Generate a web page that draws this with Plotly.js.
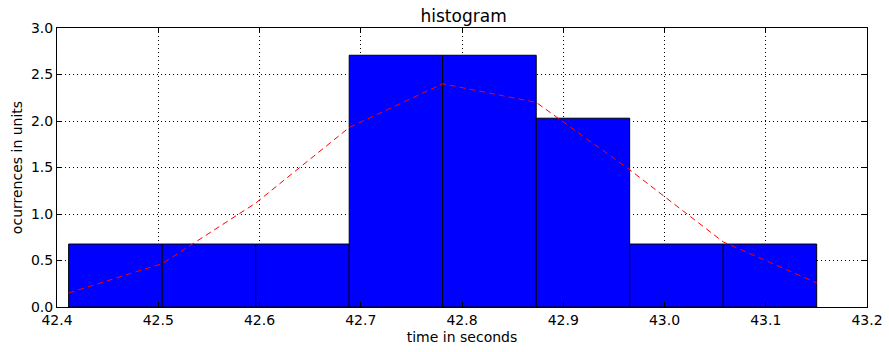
<!DOCTYPE html>
<html>
<head>
<meta charset="utf-8">
<script src="https://cdn.plot.ly/plotly-3.0.1.min.js"></script>
<style>html,body{margin:0;padding:0;background:#fff;}#chart{width:889px;height:352px;}</style>
</head>
<body>
<div id="chart"></div>
<script>
// histogram bin edges (seconds) and normalized densities
const binEdges = [42.4115, 42.5039, 42.5962, 42.6886, 42.7809, 42.8733, 42.9656, 43.0580, 43.1503];
const densities = [0.677, 0.677, 0.677, 2.707, 2.707, 2.030, 0.677, 0.677];
// fitted normal curve, evaluated at bin edges
const curveValues = [0.151, 0.467, 1.117, 1.93, 2.40, 2.20, 1.476, 0.70, 0.259];
const xTicks = [42.4, 42.5, 42.6, 42.7, 42.8, 42.9, 43.0, 43.1, 43.2];
const yTicks = [0.0, 0.5, 1.0, 1.5, 2.0, 2.5, 3.0];

const centers = [], widths = [];
for (let i = 0; i < densities.length; i++) {
  centers.push((binEdges[i] + binEdges[i + 1]) / 2);
  widths.push(binEdges[i + 1] - binEdges[i]);
}

const font = {family: 'DejaVu Sans, sans-serif', size: 14, color: '#000'};

const traces = [
  {type: 'bar', x: centers, y: densities, width: widths,
   marker: {color: '#0000ff', line: {color: '#000', width: 1}},
   hoverinfo: 'skip', xaxis: 'x', yaxis: 'y'},
  {type: 'scatter', mode: 'lines', x: binEdges, y: curveValues,
   line: {color: '#ff0000', width: 1, dash: '6px,4px'},
   hoverinfo: 'skip', xaxis: 'x2', yaxis: 'y2'}
];

const baseAxis = {
  showgrid: false, zeroline: false, showline: true, linecolor: '#000', linewidth: 1,
  mirror: 'ticks', ticks: 'inside', ticklen: 5, tickcolor: '#000', tickwidth: 1,
  layer: 'above traces', tickfont: font
};
const gridAxis = {
  showgrid: true, gridcolor: '#000', gridwidth: 1, griddash: '1px,3px',
  zeroline: false, showline: false, ticks: '', showticklabels: false
};

const layout = {
  width: 889, height: 352,
  margin: {l: 57, r: 22, t: 28, b: 45},
  paper_bgcolor: '#fff', plot_bgcolor: '#fff',
  showlegend: false, bargap: 0,
  font: font,
  title: {text: 'histogram', font: {family: 'DejaVu Sans, sans-serif', size: 17, color: '#000'},
          x: 0.502, xanchor: 'center', y: 0.955, yanchor: 'middle', xref: 'paper'},
  xaxis: Object.assign({}, baseAxis, {
    range: [42.4, 43.2], tickvals: xTicks, ticktext: xTicks.map(v => v.toFixed(1)),
    title: {text: 'time in seconds', font: font, standoff: 5}
  }),
  yaxis: Object.assign({}, baseAxis, {
    range: [0, 3], tickvals: yTicks, ticktext: yTicks.map(v => v.toFixed(1)),
    title: {text: 'ocurrences in units', font: font, standoff: 5}
  }),
  xaxis2: Object.assign({}, gridAxis, {overlaying: 'x', matches: 'x', range: [42.4, 43.2], tickvals: xTicks}),
  yaxis2: Object.assign({}, gridAxis, {overlaying: 'y', matches: 'y', range: [0, 3], tickvals: yTicks})
};

Plotly.newPlot('chart', traces, layout, {staticPlot: true, displayModeBar: false});
</script>
</body>
</html>
